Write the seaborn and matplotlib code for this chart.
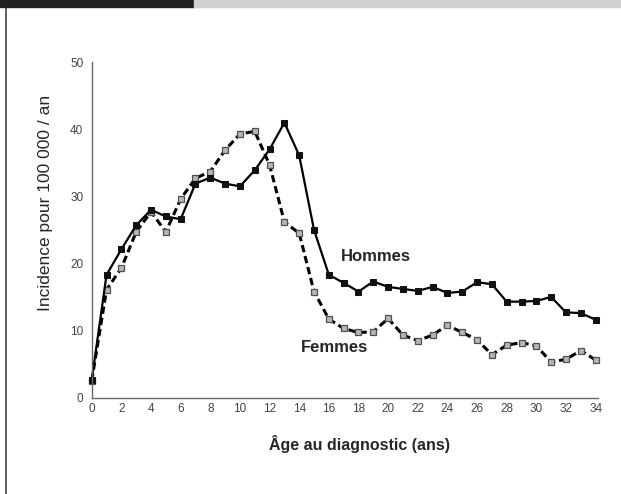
import pandas as pd
import matplotlib.pyplot as plt
import seaborn as sb
from matplotlib.ticker import MultipleLocator
from matplotlib.patches import Rectangle
from matplotlib.lines import Line2D

ages = list(range(35))
hommes = [2.6, 18.3, 22.1, 25.7, 28.0, 27.0, 26.6, 31.9, 32.8, 31.9,
          31.5, 33.9, 37.0, 41.0, 36.1, 25.0, 18.3, 17.1, 15.8, 17.3,
          16.5, 16.2, 15.9, 16.5, 15.6, 15.8, 17.2, 16.9, 14.3, 14.3,
          14.4, 15.0, 12.7, 12.6, 11.6]
femmes = [2.5, 16.1, 19.3, 24.7, 27.7, 24.7, 29.6, 32.7, 33.7, 36.9,
          39.3, 39.7, 34.7, 26.2, 24.5, 15.8, 11.7, 10.3, 9.7, 9.8,
          11.8, 9.3, 8.5, 9.3, 10.8, 9.7, 8.6, 6.4, 7.8, 8.2,
          7.7, 5.3, 5.7, 7.0, 5.6]
x_ticks = list(range(0, 35, 2))
y_ticks = [0, 10, 20, 30, 40, 50]

sb.set_style('white')
plt.rcParams['font.family'] = ['Liberation Sans', 'DejaVu Sans']

df = pd.DataFrame({'age': ages, 'Hommes': hommes, 'Femmes': femmes})

fig = plt.figure(figsize=(6.21, 4.94), dpi=100)
ax = fig.add_axes([0.1477, 0.1953, 0.815, 0.6786])

# femmes first, hommes drawn on top
sb.lineplot(data=df, x='age', y='Femmes', ax=ax, color='black', lw=2.2,
            linestyle=(0, (2.4, 1.3)), marker='s', markersize=5,
            markerfacecolor='#b5b5b5', markeredgecolor='#505050',
            markeredgewidth=0.9, clip_on=False)
sb.lineplot(data=df, x='age', y='Hommes', ax=ax, color='black', lw=1.6,
            marker='s', markersize=5, markerfacecolor='#111111',
            markeredgecolor='#111111', clip_on=False)

ax.set_xlim(0, 34.15)
ax.set_ylim(0, 50)
ax.set_xticks(x_ticks)
ax.set_yticks(y_ticks)
ax.xaxis.set_minor_locator(MultipleLocator(1))
ax.yaxis.set_minor_locator(MultipleLocator(5))
ax.tick_params(axis='x', which='both', direction='inout', length=4,
               width=0.9, color='#555555', labelsize=8.5,
               labelcolor='#444444', pad=2)
ax.tick_params(axis='y', which='major', direction='out', length=3,
               width=0.9, color='#555555', labelsize=8.5,
               labelcolor='#444444', pad=3)
ax.tick_params(axis='y', which='minor', direction='out', length=2,
               width=0.8, color='#777777')

for side in ['top', 'right']:
    ax.spines[side].set_visible(False)
for side in ['left', 'bottom']:
    ax.spines[side].set_color('#666666')
    ax.spines[side].set_linewidth(1.0)

ax.set_xlabel('Âge au diagnostic (ans)', fontsize=11.5, fontweight='bold',
              va='center')
ax.xaxis.set_label_coords(0.53, -0.14)
ax.set_ylabel('Incidence pour 100 000 / an', fontsize=12.5, va='center')
ax.yaxis.set_label_coords(-0.092, 0.58)

ax.text(19.2, 21.0, 'Hommes', fontsize=12, fontweight='bold',
        ha='center', va='center')
ax.text(16.35, 7.5, 'Femmes', fontsize=12, fontweight='bold',
        ha='center', va='center')

# page frame: top bars and left rule
fig.patches.append(Rectangle((0, 0.9858), 194 / 621, 0.0142,
                             transform=fig.transFigure, color='#231f20'))
fig.patches.append(Rectangle((194 / 621, 0.9858), 1 - 194 / 621, 0.0142,
                             transform=fig.transFigure, color='#d0d0d2'))
fig.lines.append(Line2D([5.5 / 621, 5.5 / 621], [0, 0.9858],
                        transform=fig.transFigure, color='#333333', lw=1.1))

fig.savefig('out.png', dpi=100)
